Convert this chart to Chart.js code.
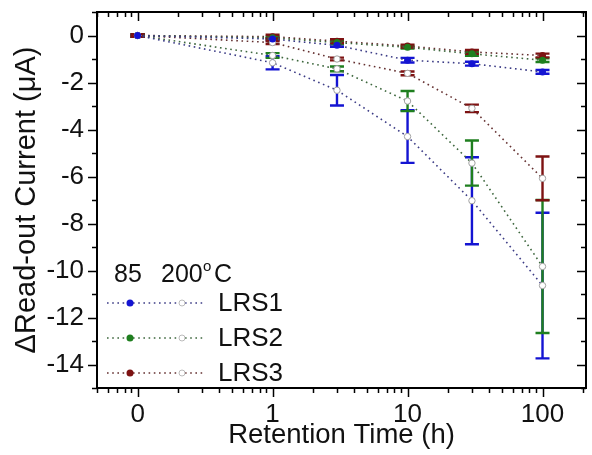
<!DOCTYPE html>
<html>
<head>
<meta charset="utf-8">
<script src="https://cdn.jsdelivr.net/npm/chart.js@4/dist/chart.umd.min.js"></script>
<style>
  html, body { margin: 0; padding: 0; background: #fff; }
</style>
</head>
<body>
<canvas id="grafico" width="592" height="455"></canvas>
<script>
// Tiempos de retención (h); el 0 se dibuja en la posición de 0.1 del eje log
const tiempos = [0, 1, 3, 10, 30, 100];
const posicionCero = 0.1;

// Series 85 °C (marcador lleno)
const lrs1_85 = [0, -0.15, -0.42, -1.05, -1.2, -1.55];
const lrs1_85_err = [0.05, 0.05, 0.06, 0.1, 0.08, 0.08];
const lrs2_85 = [0, -0.1, -0.3, -0.5, -0.78, -1.05];
const lrs2_85_err = [0.05, 0.05, 0.06, 0.06, 0.08, 0.08];
const lrs3_85 = [0, -0.05, -0.24, -0.45, -0.7, -0.85];
const lrs3_85_err = [0.05, 0.08, 0.08, 0.06, 0.08, 0.08];

// Series 200 °C (marcador abierto)
const lrs1_200 = [0, -1.16, -2.33, -4.3, -7.03, -10.64];
const lrs1_200_err = [0.05, 0.28, 0.65, 1.12, 1.85, 3.1];
const lrs2_200 = [0, -0.85, -1.42, -2.79, -5.43, -9.83];
const lrs2_200_err = [0.05, 0.1, 0.1, 0.43, 0.96, 2.83];
const lrs3_200 = [0, -0.3, -1.0, -1.61, -3.1, -6.08];
const lrs3_200_err = [0.05, 0.06, 0.06, 0.08, 0.16, 0.93];

// Marcas de los ejes
const ticksX = [0.1, 1, 10, 100];
const etiquetasX = ['0', '1', '10', '100'];
const ticksY = [-14, -12, -10, -8, -6, -4, -2, 0];

const nombres = ['LRS1', 'LRS2', 'LRS3'];
const colores = ['#1414d2', '#1f7f1f', '#7d1212'];
const coloresLinea = ['#3c3c86', '#3d673d', '#643030'];

const fuente = "'Liberation Sans', Arial, sans-serif";

function posX(t) {
    return t === 0 ? posicionCero : t;
}

function puntos(serie) {
    return tiempos.map((t, i) => ({ x: posX(t), y: serie[i] }));
}

function serieLlena(serie, err, i) {
    return {
        data: puntos(serie),
        errores: err,
        colorBarra: colores[i],
        borderColor: coloresLinea[i],
        backgroundColor: colores[i],
        borderWidth: 1.6,
        borderDash: [1.6, 3.6],
        pointRadius: 3.5,
        pointBorderWidth: 0,
        pointBackgroundColor: colores[i],
        tension: 0
    };
}

function serieAbierta(serie, err, i) {
    return {
        data: puntos(serie),
        errores: err,
        colorBarra: colores[i],
        borderColor: coloresLinea[i],
        backgroundColor: colores[i],
        borderWidth: 1.6,
        borderDash: [1.6, 3.6],
        pointRadius: 3.2,
        pointBorderWidth: 1,
        pointBorderColor: '#a0a0a0',
        pointBackgroundColor: '#ffffff',
        tension: 0
    };
}

// Barras de error, debajo de las líneas y marcadores
const barrasError = {
    id: 'barrasError',
    beforeDatasetsDraw(chart) {
        const ctx = chart.ctx;
        const x = chart.scales.x, y = chart.scales.y;
        chart.data.datasets.forEach(ds => {
            ctx.save();
            ctx.strokeStyle = ds.colorBarra;
            ctx.lineWidth = 2.4;
            ds.data.forEach((p, i) => {
                const e = ds.errores[i];
                if (!e) return;
                const px = x.getPixelForValue(p.x);
                const y1 = y.getPixelForValue(p.y + e);
                const y2 = y.getPixelForValue(p.y - e);
                ctx.beginPath();
                ctx.moveTo(px, y1); ctx.lineTo(px, y2);
                ctx.moveTo(px - 7, y1); ctx.lineTo(px + 7, y1);
                ctx.moveTo(px - 7, y2); ctx.lineTo(px + 7, y2);
                ctx.stroke();
            });
            ctx.restore();
        });
    }
};

// Marco y marcas menores/mayores en los cuatro lados
const marco = {
    id: 'marco',
    afterDraw(chart) {
        const ctx = chart.ctx;
        const a = chart.chartArea;
        const x = chart.scales.x, y = chart.scales.y;

        let marcasX = [];
        [0.01, 0.1, 1, 10, 100].forEach(d => {
            for (let k = 1; k <= 9; k++) {
                const v = k * d;
                if (v >= x.min && v <= x.max) marcasX.push(v);
            }
        });
        let marcasY = [];
        for (let v = -15; v <= 1; v++) marcasY.push(v);

        ctx.save();
        ctx.strokeStyle = '#000';
        ctx.lineWidth = 2;
        ctx.strokeRect(a.left, a.top, a.right - a.left, a.bottom - a.top);
        ctx.lineWidth = 1.5;
        ctx.beginPath();
        marcasX.forEach(v => {
            const px = Math.round(x.getPixelForValue(v)) + 0.5;
            const mayor = ticksX.some(t => Math.abs(t - v) < 1e-9);
            const L = mayor ? 9 : 5;
            ctx.moveTo(px, a.bottom); ctx.lineTo(px, a.bottom + L);
            ctx.moveTo(px, a.top); ctx.lineTo(px, a.top + L);
        });
        marcasY.forEach(v => {
            const py = Math.round(y.getPixelForValue(v)) + 0.5;
            const mayor = ticksY.includes(v);
            const L = mayor ? 9 : 5;
            ctx.moveTo(a.left, py); ctx.lineTo(a.left - L, py);
            ctx.moveTo(a.right, py); ctx.lineTo(a.right - L, py);
        });
        ctx.stroke();
        ctx.restore();
    }
};

// Leyenda dibujada a mano: 85 / 200 °C
const leyenda = {
    id: 'leyenda',
    afterDraw(chart) {
        const ctx = chart.ctx;
        ctx.save();
        ctx.fillStyle = '#111';
        ctx.font = '25px ' + fuente;
        ctx.textBaseline = 'middle';
        ctx.textAlign = 'left';
        ctx.fillText('85', 114, 275);
        ctx.fillText('200', 161, 275);
        ctx.font = '15px ' + fuente;
        ctx.fillText('o', 203, 267);
        ctx.font = '25px ' + fuente;
        ctx.fillText('C', 214, 275);

        const filas = [303, 338, 373];
        filas.forEach((fy, i) => {
            ctx.strokeStyle = coloresLinea[i];
            ctx.lineWidth = 1.6;
            ctx.setLineDash([1.6, 3.6]);
            ctx.beginPath();
            ctx.moveTo(107, fy); ctx.lineTo(205, fy);
            ctx.stroke();
            ctx.setLineDash([]);
            ctx.fillStyle = colores[i];
            ctx.beginPath(); ctx.arc(130, fy, 3.5, 0, Math.PI * 2); ctx.fill();
            ctx.fillStyle = '#fff';
            ctx.strokeStyle = '#bbb';
            ctx.lineWidth = 1;
            ctx.beginPath(); ctx.arc(182, fy, 3, 0, Math.PI * 2); ctx.fill(); ctx.stroke();
            ctx.fillStyle = '#111';
            ctx.font = '26px ' + fuente;
            ctx.fillText(nombres[i], 218, fy + 1);
        });
        ctx.restore();
    }
};

new Chart(document.getElementById('grafico'), {
    type: 'line',
    data: {
        datasets: [
            serieLlena(lrs1_85, lrs1_85_err, 0),
            serieAbierta(lrs1_200, lrs1_200_err, 0),
            serieLlena(lrs2_85, lrs2_85_err, 1),
            serieAbierta(lrs2_200, lrs2_200_err, 1),
            serieLlena(lrs3_85, lrs3_85_err, 2),
            serieAbierta(lrs3_200, lrs3_200_err, 2)
        ]
    },
    options: {
        responsive: false,
        animation: false,
        layout: { padding: { left: 0, top: 12, right: 6, bottom: 0 } },
        plugins: {
            legend: { display: false },
            tooltip: { enabled: false }
        },
        scales: {
            x: {
                type: 'logarithmic',
                min: 0.05,
                max: 210,
                grid: { display: false, drawTicks: false },
                border: { display: false },
                afterBuildTicks: s => { s.ticks = ticksX.map(v => ({ value: v })); },
                afterFit: s => { s.height = 67; s.paddingLeft = 0; s.paddingRight = 0; },
                ticks: {
                    autoSkip: false,
                    maxRotation: 0,
                    padding: 11,
                    color: '#111',
                    font: { size: 26, family: fuente },
                    callback: function (v) {
                        const i = ticksX.findIndex(t => Math.abs(t - v) < 1e-9);
                        return i >= 0 ? etiquetasX[i] : '';
                    }
                },
                title: {
                    display: true,
                    text: 'Retention Time (h)',
                    color: '#111',
                    font: { size: 27.5, family: fuente },
                    padding: { top: 0, bottom: 3 }
                }
            },
            y: {
                min: -15,
                max: 1,
                grid: { display: false, drawTicks: false },
                border: { display: false },
                afterBuildTicks: s => { s.ticks = ticksY.map(v => ({ value: v })); },
                afterFit: s => { s.width = 97; s.paddingTop = 0; s.paddingBottom = 0; },
                ticks: {
                    padding: 13,
                    color: '#111',
                    font: { size: 26, family: fuente }
                },
                title: {
                    display: true,
                    text: '\u0394Read-out Current (\u03bcA)',
                    color: '#111',
                    font: { size: 29, family: fuente },
                    padding: { top: 10, bottom: 0 }
                }
            }
        }
    },
    plugins: [barrasError, marco, leyenda]
});
</script>
</body>
</html>
